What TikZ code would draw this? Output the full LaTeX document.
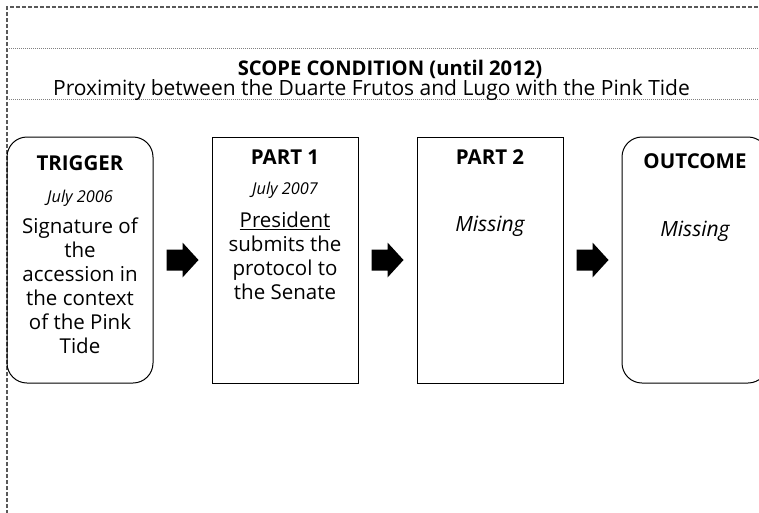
\documentclass[tikz,border=0pt]{standalone}
\usepackage{fontspec}
\setmainfont{Open Sans}
\usetikzlibrary{positioning,calc}

\tikzset{
  stage/.style={draw=black, line width=1pt, minimum width=146pt, minimum height=246pt, inner sep=0pt},
  roundstage/.style={stage, rounded corners=20pt},
  stagehead/.style={anchor=base, inner sep=0pt, font=\fontsize{20.5}{24}\selectfont\bfseries},
  stagedate/.style={anchor=base, inner sep=0pt, font=\fontsize{16.3}{19}\selectfont\itshape},
  stagebody/.style={anchor=north, inner sep=0pt, align=center, font=\fontsize{20.5}{24}\selectfont},
  missing/.style={anchor=base, inner sep=0pt, font=\fontsize{21}{24}\selectfont\itshape},
  blockarrow/.pic={\fill[black] (-16,-10.5) -- (0,-10.5) -- (0,-17.5) -- (16,0) -- (0,17.5) -- (0,10.5) -- (-16,10.5) -- cycle;}
}

\begin{document}
\begin{tikzpicture}[x=1pt, y=-1pt, node distance=58pt]
\useasboundingbox (0,0) rectangle (759,512);
% frame
\draw [gray!70!black, line width=1.3pt, dash pattern=on 4pt off 2pt] (7,520) -- (7,7) -- (770,7);
\draw [gray, line width=0.8pt, dash pattern=on 1pt off 1pt] (7,48) -- (770,48);
\draw [gray, line width=0.8pt, dash pattern=on 1pt off 1pt] (7,99) -- (770,99);
%% scope condition
\node [anchor=base, inner sep=0pt, font=\fontsize{20.2}{24}\selectfont\bfseries] (scopetitle) at (390,75) {SCOPE CONDITION (until 2012)};
\node [anchor=base, inner sep=0pt, font=\fontsize{21}{24}\selectfont] (scopetext) at (371.5,95) {Proximity between the Duarte Frutos and Lugo with the Pink Tide};

%% stages
\node [roundstage] (trig) at (80,260) {};
\node [stage, right=of trig] (part1) {};
\node [stage, right=of part1] (part2) {};
\node [roundstage, right=of part2] (outc) {};

\node [stagehead] (trighead) at ([yshift=-34pt]trig.north) {TRIGGER};
\node [stagedate] (trigdate) at ([yshift=-32pt]trighead.base) {July 2006};
\node [stagebody] (trigbody) at ([yshift=-14.2pt]trigdate.base) {\strut Signature of\\the\\accession in\\the context\\of the Pink\\Tide};

\node [stagehead] (p1head) at ([yshift=-28pt]part1.north) {PART 1};
\node [stagedate] (p1date) at ([yshift=-30pt]p1head.base) {July 2007};
\node [stagebody] (p1body) at ([yshift=-16.2pt]p1date.base) {\strut\underline{President}\\submits the\\protocol to\\the Senate};

\node [stagehead] (p2head) at ([yshift=-28pt]part2.north) {PART 2};
\node [missing] (p2miss) at ([yshift=-67pt]p2head.base) {Missing};

\node [stagehead] (outhead) at ([yshift=-32pt]outc.north) {OUTCOME};
\node [missing] (outmiss) at ([yshift=-68pt]outhead.base) {Missing};

%% arrows
\pic at ($(trig.east)!0.5!(part1.west)$) {blockarrow};
\pic at ($(part1.east)!0.5!(part2.west)$) {blockarrow};
\pic at ($(part2.east)!0.5!(outc.west)$) {blockarrow};

\end{tikzpicture}
\end{document}
